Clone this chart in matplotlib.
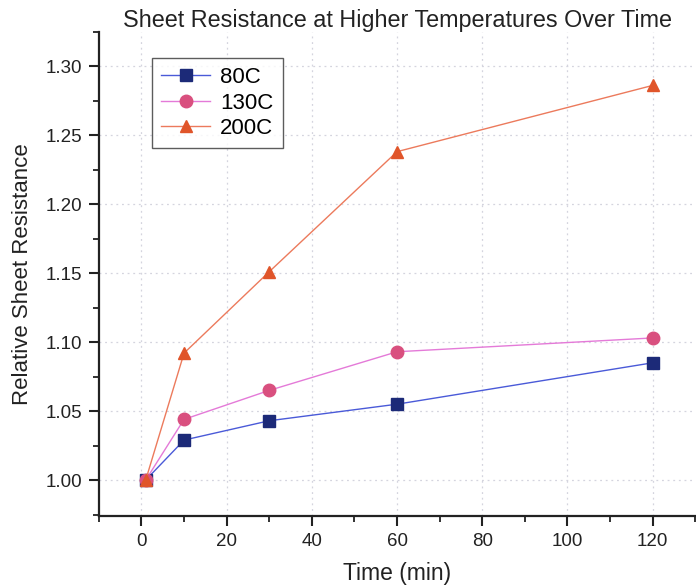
import matplotlib
matplotlib.use("Agg")
import matplotlib.pyplot as plt
from matplotlib.ticker import MultipleLocator

plt.rcParams['font.family'] = ['Liberation Sans', 'DejaVu Sans']

time_min = [1, 10, 30, 60, 120]
r_80 = [1.000, 1.029, 1.043, 1.055, 1.085]
r_130 = [1.000, 1.044, 1.065, 1.093, 1.103]
r_200 = [1.000, 1.092, 1.151, 1.238, 1.286]
labels = ["80C", "130C", "200C"]

fig = plt.figure(figsize=(6.96, 5.85), dpi=100)
ax = fig.add_axes([0.142, 0.118, 0.857, 0.828])

ax.plot(time_min, r_80, color="#4a5ad8", lw=1.0, marker="s", ms=8,
        mfc="#1c2a78", mec="#1c2a78", label=labels[0], zorder=3)
ax.plot(time_min, r_130, color="#e47ad8", lw=1.0, marker="o", ms=9,
        mfc="#d9507f", mec="#d9507f", label=labels[1], zorder=3)
ax.plot(time_min, r_200, color="#ec7a5c", lw=1.0, marker="^", ms=9,
        mfc="#e0552a", mec="#e0552a", label=labels[2], zorder=4)

ax.set_xlim(-10, 130)
ax.set_ylim(0.974, 1.325)
ax.xaxis.set_major_locator(MultipleLocator(20))
ax.xaxis.set_minor_locator(MultipleLocator(10))
ax.yaxis.set_major_locator(MultipleLocator(0.05))
ax.yaxis.set_minor_locator(MultipleLocator(0.025))
ax.yaxis.set_major_formatter(matplotlib.ticker.FormatStrFormatter('%.2f'))

ax.grid(True, which="major", color="#d4d4de", linestyle=(0, (1.5, 3)), lw=0.9)
for s in ["top", "right"]:
    ax.spines[s].set_visible(False)
for s in ["left", "bottom"]:
    ax.spines[s].set_linewidth(1.6)
    ax.spines[s].set_color("#222222")

ax.tick_params(which="major", direction="out", length=7, width=1.5, labelsize=13.5,
               colors="#222222", pad=5)
ax.tick_params(which="minor", direction="out", length=4, width=1.3, colors="#222222")

ax.set_title("Sheet Resistance at Higher Temperatures Over Time", fontsize=16.8,
             color="#222222", pad=2)
ax.set_xlabel("Time (min)", fontsize=16.5, color="#222222", labelpad=9)
ax.set_ylabel("Relative Sheet Resistance", fontsize=16, color="#222222", labelpad=9)

leg = ax.legend(loc="upper left", bbox_to_anchor=(0.089, 0.946), fontsize=16,
                frameon=True, fancybox=False, edgecolor="#333333",
                handlelength=2.2, borderpad=0.42, labelspacing=0.2, handletextpad=0.45,
                borderaxespad=0)
leg.get_frame().set_linewidth(1.0)

fig.savefig("out.png", dpi=100)
